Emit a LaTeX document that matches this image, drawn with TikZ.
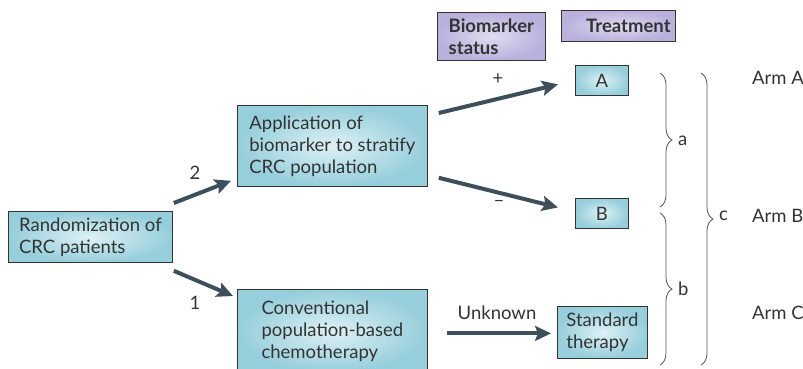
\documentclass[tikz,border=0pt]{standalone}
\usepackage{fontspec}
\setmainfont{Lato}
\usetikzlibrary{arrows.meta,calc,decorations.pathreplacing}
\definecolor{boxout}{HTML}{96CEDB}
\definecolor{boxin}{HTML}{DDF1F5}
\definecolor{hdrout}{HTML}{B9B0DC}
\definecolor{hdrin}{HTML}{E0DCF0}
\definecolor{arrowc}{HTML}{3D4F5B}
\definecolor{txt}{HTML}{333333}
\definecolor{bracec}{HTML}{555555}
\begin{document}
\begin{tikzpicture}[x=1pt,y=-1pt,
  every node/.style={text=txt,font=\fontsize{18.5}{22}\selectfont},
  bluebox/.style={draw=txt,line width=0.8pt,inner color=boxin,outer color=boxout,
    rectangle,inner sep=0pt,anchor=north west,align=left},
  hdrbox/.style={draw=txt,line width=0.8pt,inner color=hdrin,outer color=hdrout,
    rectangle,inner sep=0pt,anchor=north west,align=left,font=\fontsize{18.5}{22}\selectfont\bfseries},
  arr/.style={draw=arrowc,line width=4pt,-{Stealth[length=16pt,width=15pt,inset=3pt]}},
  brc/.style={draw=bracec,line width=0.8pt,decorate,decoration={brace,amplitude=12pt}},
  lbl/.style={inner sep=0pt}
]
\useasboundingbox (0,0) rectangle (803,368);

% boxes
\node[bluebox,minimum width=164pt,minimum height=51pt] (rand) at (8,211) {Randomization of\\CRC patients};
\node[bluebox,minimum width=190pt,minimum height=81pt] (app) at (237,105) {Application of\\biomarker to stratify\\CRC population};
\node[bluebox,minimum width=190pt,minimum height=83pt] (conv) at (237,289) {Conventional\\population-based\\chemotherapy};
\node[bluebox,minimum width=90pt,minimum height=52pt] (std) at (557,306) {Standard\\therapy};
\node[bluebox,minimum width=53pt,minimum height=30pt,align=center] (A) at (575,65) {A};
\node[bluebox,minimum width=53pt,minimum height=30pt,align=center] (B) at (575,198) {B};

% headers
\node[hdrbox,minimum width=108pt,minimum height=48pt] (bio) at (437,12) {Biomarker\\status};
\node[hdrbox,minimum width=114pt,minimum height=31pt] (treat) at (561,10) {};
\node[lbl,font=\fontsize{18.5}{22}\selectfont\bfseries] (treatlbl) at ($(treat.center)+(10,0)$) {Treatment};

% arrows
\draw[arr] ($(rand.north east)+(1,-8)$) -- ($(app.south west)+(-6,-6)$);
\draw[arr] ($(rand.south east)+(1,8)$) -- ($(conv.north west)+(-4,7)$);
\draw[arr] ($(app.north east)+(11,8)$) -- ($(A.west)+(-17,4)$);
\draw[arr] ($(app.south east)+(11,-9)$) -- ($(B.west)+(-17,-6)$);
\coordinate (convout) at ($(conv.east |- std.west)+(19,1)$);
\draw[arr] (convout) -- ($(std.west)+(-6,1)$);

% arrow labels
\node[lbl] (l2) at (195,173) {2};
\node[lbl] (l1) at (195,303) {1};
\node[lbl] (lp) at (498,79) {+};
\node[lbl] (lm) at (499,203) {–};
\node[lbl] (lu) at (497,313) {Unknown};

% braces
\coordinate (ta) at (660,73);
\coordinate (ba) at (660,207);
\coordinate (tb) at (660,213);
\coordinate (bb) at (660,365);
\coordinate (tc) at (701,73);
\coordinate (bc) at (701,365);
\draw[brc] (ta) -- (ba);
\draw[brc] (tb) -- (bb);
\draw[brc] (tc) -- (bc);
\node[lbl,anchor=west] (la) at (678,141) {a};
\node[lbl,anchor=west] (lb) at (678,289) {b};
\node[lbl,anchor=west] (lc) at (719,216) {c};

% arm labels
\node[lbl,anchor=west] (armA) at (752,78) {Arm A};
\node[lbl,anchor=west] (armB) at (752,216) {Arm B};
\node[lbl,anchor=west] (armC) at (752,313) {Arm C};
\end{tikzpicture}
\end{document}
